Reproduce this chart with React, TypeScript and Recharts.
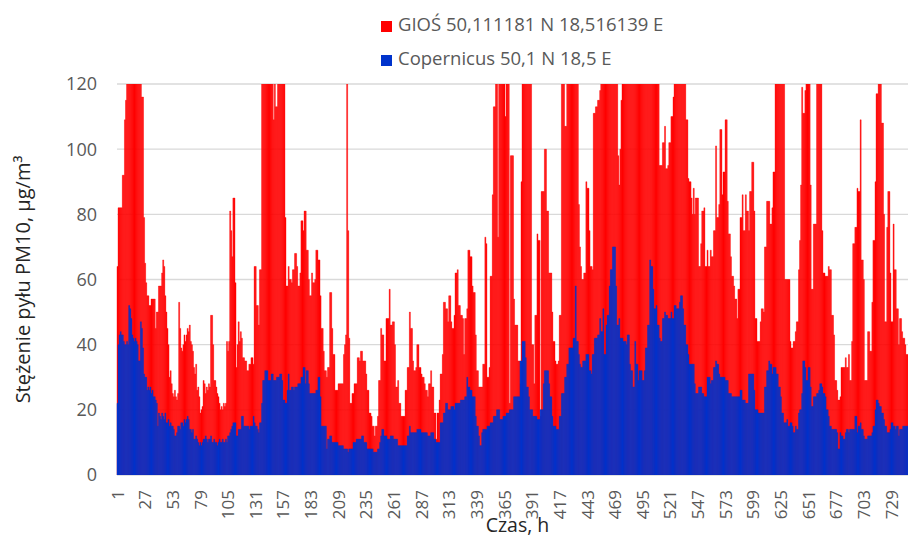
import React from 'react';
import { BarChart, Bar, XAxis, YAxis, CartesianGrid, Legend, Label } from 'recharts';

// hourly PM10, one line = one day (24 h); >120 is clipped by the axis
const GIOS = [
  64, 82, 82, 82, 82, 92, 92, 109, 115, 124, 130, 138, 150, 146, 160, 155, 148, 140, 135, 142, 136, 130, 126, 116,
  116, 79, 65, 59, 55, 55, 52, 52, 54, 54, 54, 54, 45, 50, 50, 58, 58, 58, 62, 66, 64, 55, 50, 45,
  40, 30, 32, 28, 25, 24, 26, 24, 23, 25, 53, 45, 39, 38, 40, 43, 41, 43, 45, 44, 46, 41, 40, 38,
  33, 31, 34, 26, 27, 24, 19, 20, 21, 29, 28, 25, 27, 26, 28, 27, 49, 49, 40, 29, 29, 27, 25, 24,
  22, 20, 21, 20, 22, 21, 22, 41, 38, 41, 81, 75, 67, 85, 85, 59, 33, 40, 47, 41, 44, 42, 36, 36,
  35, 35, 32, 32, 34, 34, 36, 36, 34, 64, 64, 52, 52, 46, 63, 63, 125, 132, 140, 150, 145, 138, 142, 150,
  135, 128, 121, 109, 124, 113, 113, 126, 135, 140, 132, 128, 124, 125, 79, 58, 58, 64, 60, 60, 59, 63, 63, 68,
  68, 64, 58, 58, 62, 78, 78, 75, 81, 81, 69, 69, 60, 55, 55, 62, 59, 59, 60, 69, 69, 66, 66, 55,
  45, 45, 38, 32, 32, 30, 33, 33, 56, 56, 45, 37, 37, 26, 26, 26, 28, 28, 28, 28, 28, 37, 40, 43,
  125, 75, 42, 22, 22, 25, 25, 28, 28, 28, 36, 36, 35, 38, 38, 35, 35, 35, 31, 26, 26, 19, 19, 18,
  15, 15, 12, 15, 15, 18, 29, 29, 45, 43, 43, 35, 35, 48, 48, 48, 57, 46, 46, 47, 47, 40, 27, 27,
  29, 22, 22, 18, 18, 18, 18, 26, 26, 33, 33, 50, 45, 45, 35, 32, 32, 33, 40, 40, 33, 33, 31, 30,
  30, 28, 26, 26, 24, 28, 28, 32, 27, 27, 19, 19, 11, 19, 19, 23, 31, 31, 37, 53, 53, 51, 51, 47,
  55, 55, 47, 45, 45, 49, 62, 62, 63, 52, 52, 49, 49, 48, 37, 48, 48, 51, 69, 69, 67, 67, 58, 56,
  56, 43, 32, 32, 27, 27, 27, 27, 34, 34, 73, 71, 30, 30, 33, 61, 61, 86, 113, 113, 125, 130, 73, 128,
  135, 140, 132, 128, 125, 110, 126, 130, 124, 22, 98, 98, 98, 54, 46, 46, 46, 35, 35, 28, 90, 125, 135, 145,
  150, 140, 132, 128, 136, 130, 40, 40, 28, 49, 49, 74, 72, 72, 18, 87, 87, 87, 100, 100, 81, 81, 62, 62,
  62, 50, 41, 41, 35, 34, 34, 35, 49, 49, 125, 135, 128, 107, 107, 130, 140, 150, 145, 138, 132, 140, 135, 128,
  126, 124, 83, 70, 64, 60, 60, 62, 62, 90, 88, 88, 75, 64, 64, 63, 111, 111, 113, 113, 115, 115, 118, 124,
  130, 138, 145, 150, 160, 155, 148, 140, 135, 142, 150, 145, 138, 130, 125, 98, 89, 100, 115, 124, 130, 140, 150, 160,
  155, 150, 145, 140, 135, 142, 150, 155, 148, 140, 135, 130, 138, 145, 150, 142, 136, 130, 140, 150, 145, 138, 132, 128,
  135, 140, 132, 126, 124, 122, 95, 95, 95, 102, 102, 107, 94, 94, 95, 102, 102, 110, 110, 116, 125, 130, 140, 150,
  145, 138, 132, 128, 124, 122, 121, 109, 109, 91, 90, 90, 85, 80, 88, 80, 85, 85, 85, 64, 64, 71, 81, 81,
  82, 64, 64, 69, 64, 64, 69, 67, 67, 75, 75, 101, 79, 79, 83, 106, 106, 86, 93, 93, 109, 109, 84, 74,
  74, 67, 61, 61, 58, 54, 54, 48, 57, 57, 79, 79, 86, 75, 75, 86, 81, 81, 75, 87, 87, 96, 96, 81,
  48, 48, 41, 41, 41, 47, 51, 51, 50, 70, 70, 84, 84, 84, 77, 77, 82, 93, 93, 125, 130, 140, 150, 145,
  138, 132, 128, 124, 60, 60, 60, 60, 60, 41, 39, 39, 41, 41, 44, 47, 47, 63, 72, 89, 119, 111, 111, 118,
  125, 125, 122, 121, 89, 57, 57, 77, 77, 77, 130, 140, 135, 128, 124, 75, 62, 62, 61, 61, 61, 64, 63, 63,
  49, 49, 43, 29, 29, 26, 23, 23, 24, 33, 33, 33, 33, 36, 33, 33, 37, 29, 29, 41, 71, 71, 76, 76,
  88, 87, 87, 109, 66, 66, 60, 29, 29, 29, 44, 44, 38, 38, 53, 72, 72, 90, 117, 117, 125, 130, 124, 108,
  108, 80, 47, 47, 76, 87, 87, 62, 47, 47, 77, 63, 63, 51, 51, 40, 48, 48, 44, 42, 42, 40, 37, 37,
];

const COPERNICUS = [
  22, 40, 43, 44, 43, 43, 41, 40, 40, 41, 40, 52, 51, 48, 43, 42, 41, 42, 41, 40, 35, 35, 47, 45,
  39, 31, 30, 30, 26, 27, 26, 27, 25, 26, 24, 24, 23, 22, 15, 19, 18, 17, 19, 18, 17, 19, 16, 16,
  17, 15, 16, 15, 15, 14, 12, 12, 13, 15, 15, 14, 16, 16, 15, 17, 16, 17, 18, 17, 14, 14, 13, 14,
  11, 11, 12, 11, 10, 9, 10, 9, 10, 11, 11, 12, 11, 10, 11, 11, 12, 10, 10, 11, 10, 10, 9, 10,
  11, 10, 10, 11, 10, 10, 11, 10, 12, 12, 13, 14, 15, 16, 16, 16, 12, 12, 14, 14, 14, 18, 18, 15,
  15, 15, 15, 15, 14, 15, 15, 15, 18, 16, 15, 15, 14, 13, 16, 16, 22, 29, 29, 32, 32, 32, 29, 29,
  29, 31, 31, 29, 29, 29, 30, 30, 30, 31, 31, 29, 23, 23, 22, 22, 26, 31, 26, 26, 27, 27, 26, 27,
  27, 27, 28, 28, 28, 30, 30, 33, 33, 28, 32, 32, 28, 25, 25, 25, 25, 25, 25, 26, 26, 30, 30, 24,
  15, 15, 15, 15, 15, 8, 11, 11, 12, 12, 10, 10, 10, 10, 10, 10, 9, 9, 9, 9, 9, 8, 8, 8,
  8, 7, 8, 8, 8, 8, 10, 10, 10, 11, 11, 11, 11, 11, 12, 12, 10, 10, 10, 8, 8, 8, 8, 8,
  8, 7, 7, 7, 7, 8, 8, 10, 12, 14, 14, 12, 12, 12, 11, 11, 11, 12, 12, 12, 11, 11, 11, 11,
  9, 9, 9, 9, 9, 9, 9, 9, 9, 12, 12, 15, 13, 13, 13, 13, 13, 13, 14, 14, 14, 14, 13, 13,
  13, 13, 13, 13, 12, 12, 12, 13, 13, 13, 11, 11, 10, 10, 10, 10, 16, 16, 16, 19, 19, 22, 22, 20,
  20, 20, 21, 21, 21, 20, 22, 22, 22, 22, 22, 23, 23, 23, 23, 24, 24, 30, 27, 27, 26, 26, 24, 24,
  24, 18, 15, 15, 12, 9, 9, 13, 14, 14, 14, 14, 15, 15, 15, 16, 16, 16, 18, 18, 18, 20, 20, 20,
  17, 17, 17, 18, 18, 18, 19, 19, 19, 20, 20, 20, 20, 24, 24, 24, 24, 24, 24, 35, 35, 41, 41, 41,
  36, 27, 27, 24, 20, 20, 20, 18, 18, 18, 18, 17, 17, 17, 20, 20, 20, 28, 32, 32, 32, 32, 28, 24,
  24, 18, 15, 15, 15, 14, 14, 14, 18, 18, 25, 25, 25, 30, 30, 34, 34, 39, 39, 39, 39, 42, 42, 58,
  41, 41, 37, 34, 33, 33, 35, 35, 35, 37, 37, 37, 32, 32, 31, 37, 37, 42, 42, 42, 43, 43, 48, 44,
  44, 51, 37, 37, 46, 49, 49, 58, 63, 63, 70, 70, 70, 58, 46, 46, 48, 42, 42, 42, 41, 41, 41, 40,
  43, 43, 34, 32, 32, 27, 27, 41, 34, 34, 29, 32, 32, 32, 29, 29, 32, 39, 39, 46, 46, 66, 64, 64,
  57, 51, 51, 52, 46, 46, 42, 41, 41, 48, 48, 50, 49, 49, 48, 48, 48, 50, 48, 48, 52, 52, 51, 51,
  51, 53, 55, 55, 51, 46, 46, 40, 40, 37, 34, 34, 34, 34, 34, 28, 25, 25, 25, 27, 27, 27, 25, 25,
  24, 24, 24, 30, 30, 30, 28, 29, 29, 33, 33, 35, 34, 34, 31, 30, 30, 30, 30, 30, 29, 29, 29, 25,
  25, 25, 24, 24, 24, 24, 24, 24, 24, 24, 26, 26, 23, 23, 23, 22, 22, 22, 31, 31, 31, 31, 31, 26,
  20, 20, 20, 19, 19, 19, 19, 19, 19, 27, 27, 32, 32, 35, 34, 34, 31, 33, 33, 33, 31, 31, 27, 27,
  24, 19, 19, 16, 16, 16, 17, 15, 15, 16, 16, 15, 13, 13, 15, 14, 14, 19, 20, 20, 25, 35, 35, 33,
  29, 29, 33, 33, 27, 21, 21, 24, 24, 24, 25, 25, 26, 28, 28, 27, 25, 25, 24, 20, 20, 18, 15, 15,
  14, 14, 14, 14, 14, 13, 8, 8, 13, 12, 12, 11, 11, 13, 14, 14, 13, 14, 14, 14, 14, 14, 18, 18,
  13, 15, 15, 16, 14, 14, 12, 11, 11, 11, 12, 12, 12, 12, 13, 15, 15, 20, 23, 23, 22, 21, 21, 19,
  19, 17, 15, 15, 13, 13, 13, 14, 16, 16, 15, 15, 14, 15, 15, 12, 14, 14, 14, 15, 15, 15, 15, 15,
];

const Y_TICKS = [0, 20, 40, 60, 80, 100, 120];

const SERIES = [
  { key: 'gios', name: 'GIOŚ 50,111181 N 18,516139 E', color: '#ff0000' },
  { key: 'copernicus', name: 'Copernicus 50,1 N 18,5 E', color: '#0033cc' },
];

const data = GIOS.map((v, i) => ({ h: i + 1, gios: v, copernicus: COPERNICUS[i] }));

const FONT = '"Open Sans", sans-serif';
const GREY = '#595959';

const renderLegend = () => (
  <div style={{ position: 'relative', width: 908, height: 76, fontFamily: FONT, fontSize: 18.5, color: GREY }}>
    {SERIES.map((s, i) => (
      <div
        key={s.key}
        style={{ position: 'absolute', left: 381, top: 11 + i * 33.5, lineHeight: '25px', whiteSpace: 'nowrap' }}
      >
        <span
          style={{ display: 'inline-block', width: 11, height: 11, background: s.color, marginRight: 6, verticalAlign: '-1px' }}
        />
        {s.name}
      </div>
    ))}
  </div>
);

// hour labels written bottom-to-top, like the Excel original
const HourTick = ({ x, y, payload }: any) => (
  <text
    x={x}
    y={y}
    transform={`rotate(-90, ${x}, ${y})`}
    textAnchor="end"
    dy="0.36em"
    fontFamily={FONT}
    fontSize={17}
    fill={GREY}
  >
    {payload.value}
  </text>
);

export default function App() {
  return (
    <div style={{ position: 'absolute', left: 0, top: 0, background: '#fff' }}>
      <BarChart
        width={908}
        height={539}
        data={data}
        margin={{ top: 84, right: 0, bottom: 0, left: 0 }}
        barCategoryGap={0}
        barGap={0}
      >
        <CartesianGrid vertical={false} stroke="#d9d9d9" strokeWidth={1.3} />
        <XAxis
          xAxisId="red"
          dataKey="h"
          interval={25}
          height={64}
          axisLine={false}
          tickLine={false}
          tickSize={0}
          tickMargin={15}
          tick={<HourTick />}
          label={{ value: 'Czas, h', position: 'insideBottom', offset: 7, dx: 5, fontFamily: FONT, fontSize: 19.5, fill: '#262626' }}
        />
        {/* second category axis only so the blue bars sit over the red ones */}
        <XAxis xAxisId="blue" dataKey="h" hide height={0} />
        <YAxis
          domain={[0, 120]}
          ticks={Y_TICKS}
          allowDataOverflow
          width={117}
          axisLine={false}
          tickLine={false}
          tickSize={0}
          tickMargin={20}
          tick={{ fontFamily: FONT, fontSize: 18, fill: GREY }}
        >
          <Label
            value="Stężenie pyłu PM10, µg/m³"
            angle={-90}
            position="center"
            dx={-35.5}
            style={{ fontFamily: FONT, fontSize: 20, fill: '#262626', textAnchor: 'middle' }}
          />
        </YAxis>
        <Legend
          layout="vertical"
          verticalAlign="middle"
          align="center"
          wrapperStyle={{ top: 0, left: 0, width: 908, height: 76 }}
          content={renderLegend}
        />
        <Bar
          xAxisId="red"
          dataKey="gios"
          name={SERIES[0].name}
          fill={SERIES[0].color}
          stroke={SERIES[0].color}
          strokeWidth={0.4}
          isAnimationActive={false}
        />
        <Bar
          xAxisId="blue"
          dataKey="copernicus"
          name={SERIES[1].name}
          fill={SERIES[1].color}
          stroke={SERIES[1].color}
          strokeWidth={0.4}
          isAnimationActive={false}
        />
      </BarChart>
    </div>
  );
}
